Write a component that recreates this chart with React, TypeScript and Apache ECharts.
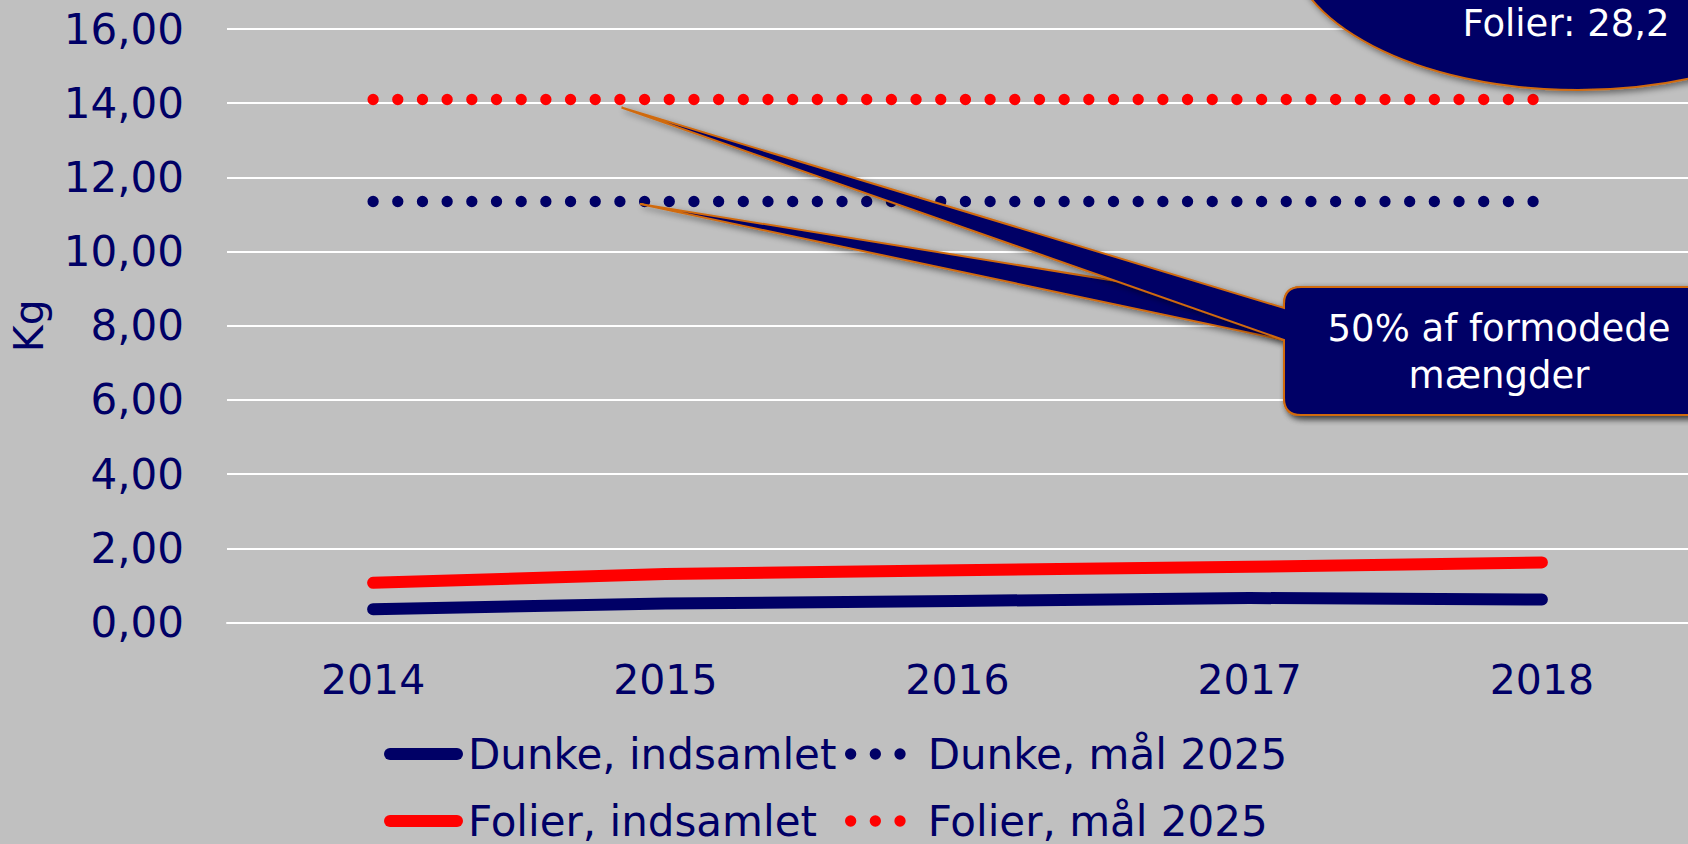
import React, { useEffect, useRef } from 'react';
import * as echarts from 'echarts';

// ---- data ----
const years = ['2014', '2015', '2016', '2017', '2018'];
const dunkeIndsamlet = [0.36, 0.51, 0.58, 0.66, 0.62];
const folierIndsamlet = [1.07, 1.31, 1.41, 1.5, 1.62];
const dunkeMaal = [11.35, 11.35, 11.35, 11.35, 11.35];
const folierMaal = [14.1, 14.1, 14.1, 14.1, 14.1];
const yMin = 0;
const yMax = 16;
const yStep = 2;
const nameDunkeInd = 'Dunke, indsamlet';
const nameDunkeMaal = 'Dunke, mål 2025';
const nameFolierInd = 'Folier, indsamlet';
const nameFolierMaal = 'Folier, mål 2025';
const yAxisName = 'Kg';
const calloutText = '50% af formodede\nmængder';
const ellipseText = 'Folier: 28,2';

const NAVY = '#000066';
const RED = '#FF0000';
const ORANGE = '#D06A10';
const FONT = '"DejaVu Sans", Verdana, sans-serif';

function calloutPath(tipX: number, tipY: number) {
  const L = 1284, T = 287, R = 1730, B = 415, r = 17, b1 = 308, b2 = 340;
  return `M ${L + r} ${T} L ${R} ${T} L ${R} ${B} L ${L + r} ${B} Q ${L} ${B} ${L} ${B - r} L ${L} ${b2} L ${tipX} ${tipY} L ${L} ${b1} L ${L} ${T + r} Q ${L} ${T} ${L + r} ${T} Z`;
}

let registered = false;
function registerShapes() {
  if (registered) return;
  registered = true;
  echarts.graphic.registerShape('calloutTop', echarts.graphic.extendPath(calloutPath(621.5, 107.5), {}));
  echarts.graphic.registerShape('calloutLow', echarts.graphic.extendPath(calloutPath(640, 204), {}));
}

const shadow = {
  shadowBlur: 6,
  shadowColor: 'rgba(0,0,0,0.45)',
  shadowOffsetX: 3,
  shadowOffsetY: 3,
};

export default function App() {
  const ref = useRef<HTMLDivElement>(null);
  useEffect(() => {
    if (!ref.current) return;
    registerShapes();
    const chart = echarts.init(ref.current, undefined, { renderer: 'svg' });
    const option: any = {
      animation: false,
      backgroundColor: '#C0C0C0',
      textStyle: { fontFamily: FONT },
      grid: { left: 226, right: 0, top: 29, bottom: 221.5, containLabel: false },
      xAxis: {
        type: 'category',
        data: years,
        boundaryGap: true,
        axisLine: { show: true, lineStyle: { color: '#FFFFFF', width: 2 } },
        axisTick: { show: false },
        axisLabel: { color: NAVY, fontSize: 41, fontFamily: FONT, margin: 37 },
        splitLine: { show: false },
      },
      yAxis: {
        type: 'value',
        min: yMin,
        max: yMax,
        interval: yStep,
        name: yAxisName,
        nameLocation: 'middle',
        nameRotate: 90,
        nameGap: 178,
        nameTextStyle: { color: NAVY, fontSize: 41, fontFamily: FONT },
        axisLine: { show: false },
        axisTick: { show: false },
        axisLabel: {
          color: NAVY,
          fontSize: 42,
          fontFamily: FONT,
          margin: 43,
          formatter: (v: number) => v.toFixed(2).replace('.', ','),
        },
        splitLine: { show: true, lineStyle: { color: '#FFFFFF', width: 2 } },
      },
      legend: [
        {
          data: [{ name: nameDunkeInd }, { name: nameFolierInd }],
          orient: 'vertical',
          left: 384,
          top: 733,
          padding: 0,
          itemWidth: 73,
          itemHeight: 42,
          itemGap: 25,
          selectedMode: false,
          lineStyle: { width: 12, type: [67, 300], cap: 'round' },
          itemStyle: { opacity: 0 },
          textStyle: { color: NAVY, fontSize: 42, fontFamily: FONT },
        },
        {
          data: [{ name: nameDunkeMaal }, { name: nameFolierMaal }],
          orient: 'vertical',
          left: 845,
          top: 733,
          padding: 0,
          itemWidth: 72,
          itemHeight: 42,
          itemGap: 25,
          selectedMode: false,
          lineStyle: { width: 11.3, type: [0.01, 24.67], cap: 'round' },
          itemStyle: { opacity: 0 },
          textStyle: { color: NAVY, fontSize: 42, fontFamily: FONT },
        },
      ],
      series: [
        {
          name: nameDunkeInd,
          type: 'line',
          data: dunkeIndsamlet,
          symbol: 'none',
          color: NAVY,
          lineStyle: { color: NAVY, width: 12, cap: 'round', join: 'round' },
        },
        {
          name: nameDunkeMaal,
          type: 'line',
          data: dunkeMaal,
          symbol: 'none',
          color: NAVY,
          lineStyle: { color: NAVY, width: 11.3, type: [0.01, 24.67], cap: 'round' },
        },
        {
          name: nameFolierInd,
          type: 'line',
          data: folierIndsamlet,
          symbol: 'none',
          color: RED,
          lineStyle: { color: RED, width: 12, cap: 'round', join: 'round' },
        },
        {
          name: nameFolierMaal,
          type: 'line',
          data: folierMaal,
          symbol: 'none',
          color: RED,
          lineStyle: { color: RED, width: 11.3, type: [0.01, 24.67], cap: 'round' },
        },
      ],
      graphic: [
        {
          type: 'ellipse',
          z: 100,
          shape: { cx: 1578, cy: -60, rx: 290, ry: 150 },
          style: { fill: NAVY, stroke: ORANGE, lineWidth: 2, ...shadow },
        },
        {
          type: 'text',
          z: 101,
          x: 1566,
          y: 23,
          style: {
            text: ellipseText,
            fill: '#FFFFFF',
            fontSize: 37,
            fontFamily: FONT,
            align: 'center',
            verticalAlign: 'middle',
          },
        },
        {
          type: 'calloutLow',
          z: 100,
          style: { fill: NAVY, stroke: ORANGE, lineWidth: 2, ...shadow },
        },
        {
          type: 'calloutTop',
          z: 101,
          style: { fill: NAVY, stroke: ORANGE, lineWidth: 2, ...shadow },
        },
        {
          type: 'text',
          z: 102,
          x: 1499,
          y: 352,
          style: {
            text: calloutText,
            fill: '#FFFFFF',
            fontSize: 37,
            fontFamily: FONT,
            lineHeight: 47,
            align: 'center',
            verticalAlign: 'middle',
          },
        },
      ],
    };
    chart.setOption(option);
    return () => chart.dispose();
  }, []);
  return (
    <div
      ref={ref}
      style={{ position: 'fixed', left: 0, top: 0, width: 1688, height: 844 }}
    />
  );
}
